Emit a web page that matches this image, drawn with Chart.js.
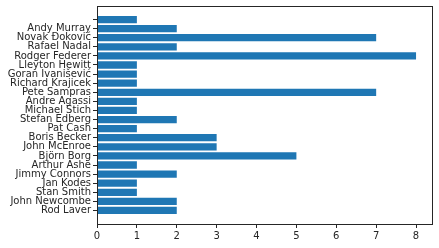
<!DOCTYPE html>
<html>
<head>
<meta charset="utf-8">
<script src="https://cdn.jsdelivr.net/npm/chart.js@4/dist/chart.umd.min.js"></script>
<style>
  html, body { margin: 0; padding: 0; background: #fff; }
  #wrap { width: 439px; height: 248px; position: relative; }
</style>
</head>
<body>
<div id="wrap"><canvas id="c"></canvas></div>
<script>
"use strict";

// bottom to top, as in the picture
const players = [
  "Rod Laver", "John Newcombe", "Stan Smith", "Jan Kodes", "Jimmy Connors",
  "Arthur Ashe", "Björn Borg", "John McEnroe", "Boris Becker", "Pat Cash",
  "Stefan Edberg", "Michael Stich", "Andre Agassi", "Pete Sampras",
  "Richard Krajicek", "Goran Ivanišević", "Lleyton Hewitt", "Rodger Federer",
  "Rafael Nadal", "Novak Đoković", "Andy Murray", "",
];
const titles = [2, 2, 1, 1, 2, 1, 5, 3, 3, 1, 2, 1, 1, 7, 1, 1, 1, 8, 2, 7, 2, 1];
const xTicks = [0, 1, 2, 3, 4, 5, 6, 7, 8];

const INK = "#262626";
const FONT = { family: "DejaVu Sans", size: 10 };

const frame = {
  id: "frame",
  afterDatasetsDraw(ch) {
    const a = ch.chartArea, ctx = ch.ctx;
    ctx.save();
    ctx.strokeStyle = INK;
    ctx.lineWidth = 1;
    ctx.strokeRect(Math.round(a.left) + 0.5, Math.round(a.top) + 0.5, Math.round(a.right - a.left), Math.round(a.bottom - a.top));
    ctx.restore();
  },
};

new Chart(document.getElementById("c"), {
  type: "bar",
  data: {
    datasets: [{
      data: titles.map((v, i) => ({ x: v, y: i })),
      backgroundColor: "#1f77b4",
      borderWidth: 0,
      barPercentage: 1,
      categoryPercentage: 0.8,
    }],
  },
  options: {
    indexAxis: "y",
    responsive: true,
    maintainAspectRatio: false,
    animation: false,
    layout: { padding: { top: 6, right: 7, left: 0, bottom: 0 } },
    plugins: { legend: { display: false }, tooltip: { enabled: false } },
    scales: {
      x: {
        type: "linear",
        min: 0,
        max: 8.4,
        afterBuildTicks: (s) => { s.ticks = xTicks.map((v) => ({ value: v })); },
        afterFit: (s) => { s.height = 24; s.paddingLeft = 0; s.paddingRight = 0; },
        grid: { drawOnChartArea: false, drawTicks: true, tickLength: 4, color: INK },
        border: { color: INK },
        ticks: { color: INK, font: FONT, padding: 2, maxRotation: 0 },
      },
      y: {
        type: "linear",
        offset: false,
        min: -1.49,
        max: 22.49,
        afterBuildTicks: (s) => { s.ticks = players.map((_, i) => ({ value: i })); },
        afterFit: (s) => { s.width = 97; s.paddingTop = 0; s.paddingBottom = 0; },
        grid: { offset: false, drawOnChartArea: false, drawTicks: true, tickLength: 4, color: INK },
        border: { color: INK },
        ticks: { color: INK, font: FONT, padding: 2, autoSkip: false, callback: (v) => players[v] },
      },
    },
  },
  plugins: [frame],
});
</script>
</body>
</html>
